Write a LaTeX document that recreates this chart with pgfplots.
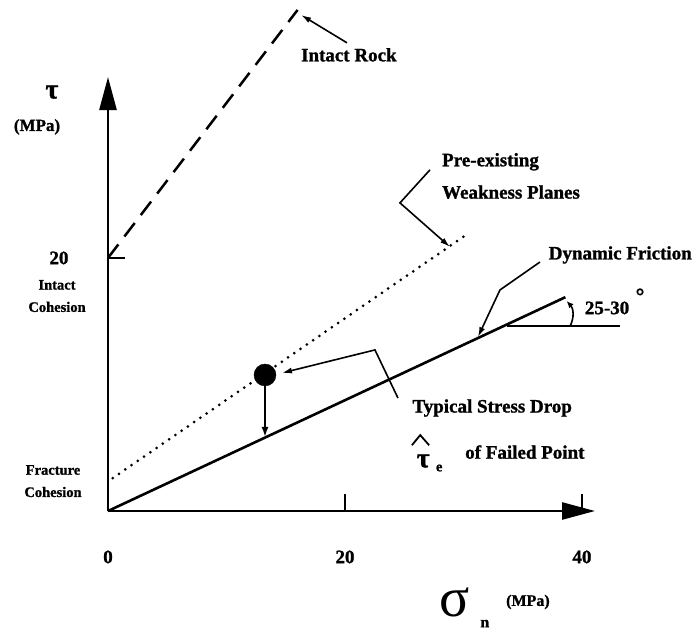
\documentclass[border=0pt]{standalone}
\usepackage{pgfplots}
\pgfplotsset{compat=1.18}
\usetikzlibrary{arrows.meta}
\usepackage{fontspec}
\setmainfont{Liberation Serif}[BoldFeatures={FakeBold=1.2}]
\newcommand\lbl{\fontsize{19}{22}\selectfont\bfseries}
\newcommand\slbl{\fontsize{14.5}{16}\selectfont\bfseries}
\begin{document}
\begin{tikzpicture}
\path[use as bounding box] (-108pt,-119pt) rectangle (588pt,511pt);
\begin{axis}[
  at={(0pt,0pt)}, anchor=south west,
  scale only axis, width=487pt, height=434pt,
  xmin=0, xmax=41.1, ymin=0, ymax=34.3,
  clip=false,
  axis lines=left,
  axis line style={line width=2.6pt, -{Triangle[length=33pt,width=17pt]}},
  xtick={0,20,40}, ytick={20},
  tick align=inside, major tick length=17pt,
  tick style={line width=2pt, black},
  /pgf/number format/assume math mode=true,
  xticklabel style={font=\lbl, yshift=-36pt},
  yticklabel style={font=\lbl, xshift=-36pt},
]
% Intact rock (dashed)
\addplot[line width=2.5pt, dash pattern=on 17pt off 10pt] coordinates {(0,20) (16.0,39.6)};
% Pre-existing weakness planes (dotted)
\addplot[line width=3pt, line cap=round, dash pattern=on 0pt off 7.6pt] coordinates {(0.4,2.6) (30.5,22.0)};
% Dynamic friction (solid)
\addplot[line width=2.6pt] coordinates {(0,0) (38.6,16.9)};
% horizontal reference line for angle
\addplot[line width=2pt] coordinates {(33.7,14.6) (43.2,14.6)};
% failed point
\addplot[only marks, mark=*, mark size=11pt, black] coordinates {(13.25,10.75)};
% stress drop arrow
\addplot[line width=1.8pt, -{Latex[length=10pt,width=7pt]}] coordinates {(13.25,10.0) (13.25,5.85)};

% leader lines
\draw[line width=1.6pt, -{Latex[length=10pt,width=6pt]}] (axis cs:20.17,37.0) -- (axis cs:16.3,39.2);
\draw[line width=1.6pt, -{Latex[length=10pt,width=6pt]}] (axis cs:27.17,26.96) -- (axis cs:24.64,24.35) -- (axis cs:28.86,20.87);
\draw[line width=1.6pt, -{Latex[length=10pt,width=6pt]}] (axis cs:36.46,19.68) -- (axis cs:33.08,17.47) -- (axis cs:31.22,13.75);
\draw[line width=1.6pt, {Latex[length=10pt,width=6pt]}-] (axis cs:14.68,10.91) -- (axis cs:22.53,12.73) -- (axis cs:24.47,8.93);
\draw[line width=1.6pt, -{Latex[length=7pt,width=6pt]}] (axis cs:39.0,14.62) to[bend right=35] (axis cs:38.7,16.6);

% texts
\node[font=\lbl, anchor=west] at (axis cs:16.0,36.05) {Intact Rock};
\node[font=\lbl, anchor=west] at (axis cs:27.9,27.6) {Pre-existing};
\node[font=\lbl, anchor=west] at (axis cs:27.9,25.2) {Weakness Planes};
\node[font=\lbl, anchor=west] at (axis cs:36.9,20.24) {Dynamic Friction};
\node[font=\lbl, anchor=west] at (axis cs:39.95,16.05) {25-30};
\node[font=\fontsize{22}{22}\selectfont\bfseries] at (axis cs:44.9,17.0) {°};
\node[font=\lbl, anchor=west] at (axis cs:25.4,8.14) {Typical Stress Drop};
\node[font=\fontsize{28}{30}\selectfont\bfseries] at (axis cs:26.6,3.95) {τ};
\draw[line width=1.8pt] (axis cs:25.65,5.2) -- (axis cs:26.35,6.0) -- (axis cs:27.1,5.2);
\node[font=\slbl] at (axis cs:27.95,3.4) {e};
\node[font=\lbl, anchor=west] at (axis cs:29.85,4.66) {of Failed Point};

\node[font=\fontsize{28}{30}\selectfont\bfseries] at (axis cs:-4.73,33.1) {τ};
\node[font=\fontsize{17}{18}\selectfont\bfseries] at (axis cs:-5.99,30.36) {(MPa)};
\node[font=\slbl] at (axis cs:-4.3,17.87) {Intact};
\node[font=\slbl] at (axis cs:-4.3,16.13) {Cohesion};
\node[font=\slbl] at (axis cs:-4.64,3.24) {Fracture};
\node[font=\slbl] at (axis cs:-4.64,1.5) {Cohesion};

\node[font=\fontsize{56}{58}\selectfont] at (axis cs:29.28,-7.2) {σ};
\node[font=\fontsize{16}{18}\selectfont\bfseries] at (axis cs:31.8,-8.9) {n};
\node[font=\fontsize{16}{18}\selectfont\bfseries] at (axis cs:35.44,-7.19) {(MPa)};
\end{axis}
\end{tikzpicture}
\end{document}
